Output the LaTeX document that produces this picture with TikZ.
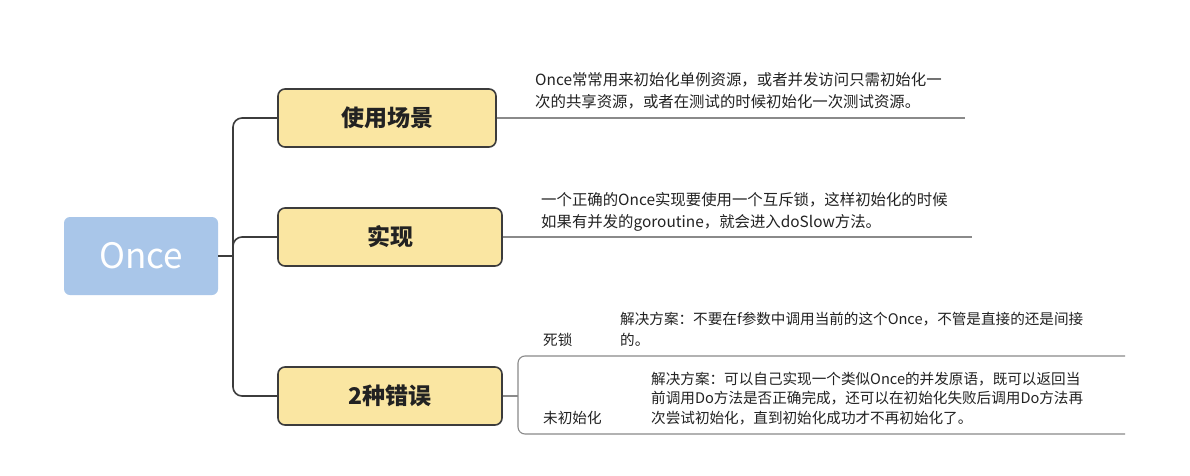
\documentclass[tikz,border=0pt]{standalone}
\usepackage{fontspec}
\setmainfont{Noto Sans CJK SC}
\begin{document}
\begin{tikzpicture}[x=1pt,y=-1pt,
  rootbox/.style={draw=none,fill=rootblue,rounded corners=6pt,minimum width=154pt,minimum height=78pt,inner sep=0pt,text=white,font=\fontsize{35}{38}\selectfont},
  topicbox/.style={draw=borderc,line width=1.6pt,fill=topicyellow,rounded corners=7pt,minimum height=58pt,inner sep=0pt,text=textc,font=\fontsize{23}{26}\selectfont\bfseries},
  trunk/.style={draw=borderc,line width=1.6pt,rounded corners=9pt},
  leaf/.style={draw=linegray,line width=1.1pt},
  desc/.style={anchor=north west,align=left,inner sep=0pt,text=textc,font=\fontsize{15.4}{22}\selectfont},
  subdesc/.style={anchor=north west,align=left,inner sep=0pt,text=textc,font=\fontsize{14.6}{20.5}\selectfont}]
\definecolor{rootblue}{HTML}{A9C6E9}
\definecolor{topicyellow}{HTML}{FAE6A2}
\definecolor{borderc}{HTML}{3C3C3C}
\definecolor{textc}{HTML}{222222}
\definecolor{linegray}{HTML}{8A8A8A}
\useasboundingbox[fill=white] (0,0) rectangle (1190,476);

\node[rootbox] (once) at (141,256) {Once};
\node[topicbox,minimum width=218pt] (b1) at (387,118) {使用场景};
\node[topicbox,minimum width=224pt] (b2) at (390,237) {实现};
\node[topicbox,minimum width=224pt] (b3) at (390,396) {2种错误};

\coordinate (j) at (233,256);
\draw[trunk] (once.east) -- (j);
\draw[trunk] (j) |- (b1.west);
\draw[trunk] (j) |- (b2.west);
\draw[trunk] (j) |- (b3.west);

\coordinate (e1) at (965,118);
\coordinate (e2) at (972,237);
\draw[leaf] (b1.east) -- (e1);
\draw[leaf] (b2.east) -- (e2);

\node[desc] (t1) at (535,72) {Once常常用来初始化单例资源，或者并发访问只需初始化一\\次的共享资源，或者在测试的时候初始化一次测试资源。};
\node[desc] (t2) at (541,192) {一个正确的Once实现要使用一个互斥锁，这样初始化的时候\\如果有并发的goroutine，就会进入doSlow方法。};

\coordinate (k) at (518,396);
\coordinate (ta) at (1125,356);
\coordinate (tb) at (1125,434);
\draw[leaf] (b3.east) -- (k);
\draw[leaf,rounded corners=7pt] (ta) -- (518,356) -- (518,434) -- (tb);

\node[subdesc,anchor=west] (s1) at (543,340) {死锁};
\node[subdesc] (d1) at (620,312) {解决方案：不要在f参数中调用当前的这个Once，不管是直接的还是间接\\的。};
\node[subdesc,anchor=west] (s2) at (543,418) {未初始化};
\node[subdesc,font=\fontsize{14.6}{19.3}\selectfont] (d2) at (651,372) {解决方案：可以自己实现一个类似Once的并发原语，既可以返回当\\前调用Do方法是否正确完成，还可以在初始化失败后调用Do方法再\\次尝试初始化，直到初始化成功才不再初始化了。};
\end{tikzpicture}
\end{document}
